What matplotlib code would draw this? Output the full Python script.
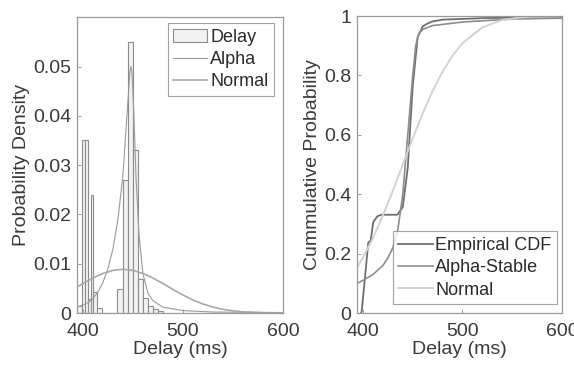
import numpy as np
import matplotlib.pyplot as plt

plt.rcParams['font.family'] = ['Liberation Sans', 'DejaVu Sans']

# Histogram of measured delay (bin edges in ms, density per bin)
bin_edges = [394.5, 398.7, 402.0, 405.3, 407.7, 410.3, 414.4, 418.7, 434.5,
             440.0, 445.0, 450.0, 455.0, 460.0, 465.0, 470.0, 475.0, 480.0]
bin_density = [0.0015, 0.035, 0.035, 0.0028, 0.024, 0.0043, 0.001, 0.0,
               0.0048, 0.027, 0.055, 0.033, 0.007, 0.003, 0.0015, 0.0008, 0.0005]

# Fitted alpha-stable pdf
alpha_x = [394, 400, 405, 410, 415, 420, 425, 430, 435, 440, 444, 447, 448,
           449, 451, 453, 456, 460, 465, 470, 480, 500, 530, 600]
alpha_pdf = [0.0012, 0.0016, 0.0021, 0.0029, 0.0043, 0.0062, 0.009, 0.013,
             0.019, 0.028, 0.040, 0.049, 0.050, 0.049, 0.040, 0.028, 0.016,
             0.008, 0.004, 0.0025, 0.0012, 0.0005, 0.0002, 0.0001]

# Fitted normal pdf
normal_x = [394, 400, 410, 420, 430, 440, 450, 460, 470, 480, 490, 500, 510,
            520, 530, 540, 550, 560, 580, 600]
normal_pdf = [0.00526, 0.00597, 0.0071, 0.00803, 0.00865, 0.00887, 0.00865,
              0.00803, 0.0071, 0.00597, 0.00478, 0.00365, 0.00264, 0.00183,
              0.0012, 0.00075, 0.00045, 0.00025, 0.00007, 0.00001]

# Cumulative curves
ecdf_x = [398.0, 398.7, 402.0, 405.3, 407.7, 410.3, 414.4, 418.7, 434.5, 440.0,
          445.0, 450.0, 455.0, 460.0, 465.0, 470.0, 480.0, 520.0, 600.0]
ecdf_y = [0.0, 0.006, 0.12, 0.237, 0.244, 0.306, 0.326, 0.331, 0.331, 0.357,
          0.49, 0.765, 0.93, 0.965, 0.975, 0.982, 0.988, 0.993, 0.998]

alpha_cdf_x = [394, 400, 410, 420, 425, 430, 435, 440, 445, 448, 450, 453,
               456, 460, 470, 500, 550, 600]
alpha_cdf_y = [0.10, 0.11, 0.13, 0.16, 0.185, 0.22, 0.28, 0.40, 0.60, 0.72,
               0.80, 0.90, 0.94, 0.955, 0.968, 0.98, 0.99, 0.993]

normal_cdf_x = [394, 400, 410, 420, 430, 440, 450, 460, 470, 480, 490, 500,
                520, 540, 560, 600]
normal_cdf_y = [0.153, 0.187, 0.252, 0.328, 0.412, 0.50, 0.588, 0.672, 0.748,
                0.813, 0.867, 0.909, 0.962, 0.987, 0.996, 1.0]

x_ticks = [400, 500, 600]
pdf_ticks = [0, 0.01, 0.02, 0.03, 0.04, 0.05]
pdf_tick_labels = ['0', '0.01', '0.02', '0.03', '0.04', '0.05']
cdf_ticks = [0, 0.2, 0.4, 0.6, 0.8, 1.0]
cdf_tick_labels = ['0', '0.2', '0.4', '0.6', '0.8', '1']

text_color = '#3a3a3a'
frame_color = '#9a9a9a'
fs = 14
leg_fs = 13

fig = plt.figure(figsize=(5.74, 3.74), dpi=100)
ax1 = fig.add_axes([0.134, 0.163, 0.359, 0.791])
ax2 = fig.add_axes([0.622, 0.163, 0.357, 0.794])


def style_axes(ax):
    for sp in ax.spines.values():
        sp.set_color(frame_color)
        sp.set_linewidth(0.9)
    ax.tick_params(direction='in', length=3, width=0.7, color=frame_color,
                   labelsize=fs, labelcolor=text_color, pad=4,
                   top=False, right=False)
    ax.tick_params(axis='x', pad=7)


def style_legend(leg):
    leg.get_frame().set_edgecolor('#8a8a8a')
    leg.get_frame().set_linewidth(0.8)
    for t in leg.get_texts():
        t.set_color('#2a2a2a')


# Left: densities
bars = ax1.bar(bin_edges[:-1], bin_density, width=np.diff(bin_edges),
               align='edge', color='#f2f2f2', edgecolor='#8c8c8c',
               linewidth=0.8, label='Delay')
line_a, = ax1.plot(alpha_x, alpha_pdf, color='#9a9a9a', linewidth=0.8,
                   label='Alpha')
line_n, = ax1.plot(normal_x, normal_pdf, color='#a8a8a8', linewidth=1.2,
                   label='Normal')
ax1.set_xlim(394, 600)
ax1.set_ylim(0, 0.06)
ax1.set_xticks(x_ticks)
ax1.set_yticks(pdf_ticks)
ax1.set_yticklabels(pdf_tick_labels)
ax1.set_xlabel('Delay (ms)', fontsize=fs, color=text_color, labelpad=1)
ax1.set_ylabel('Probability Density', fontsize=fs, color=text_color, labelpad=2)
style_axes(ax1)
leg1 = ax1.legend([bars, line_a, line_n], ['Delay', 'Alpha', 'Normal'],
                  loc='upper right', bbox_to_anchor=(0.955, 0.98),
                  fontsize=leg_fs, frameon=True, fancybox=False,
                  handlelength=1.9, handletextpad=0.15, borderpad=0.3,
                  labelspacing=0.3, borderaxespad=0.0)
style_legend(leg1)

# Right: cumulative distributions
ax2.plot(ecdf_x, ecdf_y, color='#6e6e6e', linewidth=1.3, label='Empirical CDF')
ax2.plot(alpha_cdf_x, alpha_cdf_y, color='#8c8c8c', linewidth=1.2,
         label='Alpha-Stable')
ax2.plot(normal_cdf_x, normal_cdf_y, color='#d2d2d2', linewidth=1.4,
         label='Normal')
ax2.set_xlim(394, 600)
ax2.set_ylim(0, 1)
ax2.set_xticks(x_ticks)
ax2.set_yticks(cdf_ticks)
ax2.set_yticklabels(cdf_tick_labels)
ax2.set_xlabel('Delay (ms)', fontsize=fs, color=text_color, labelpad=1)
ax2.set_ylabel('Cummulative Probability', fontsize=fs, color=text_color,
               labelpad=2)
style_axes(ax2)
leg2 = ax2.legend(loc='lower right', bbox_to_anchor=(0.976, 0.03),
                  fontsize=leg_fs, frameon=True, fancybox=False,
                  handlelength=1.9, handletextpad=0.15, borderpad=0.3,
                  labelspacing=0.3, borderaxespad=0.0)
style_legend(leg2)

fig.savefig('out.png', dpi=100)
